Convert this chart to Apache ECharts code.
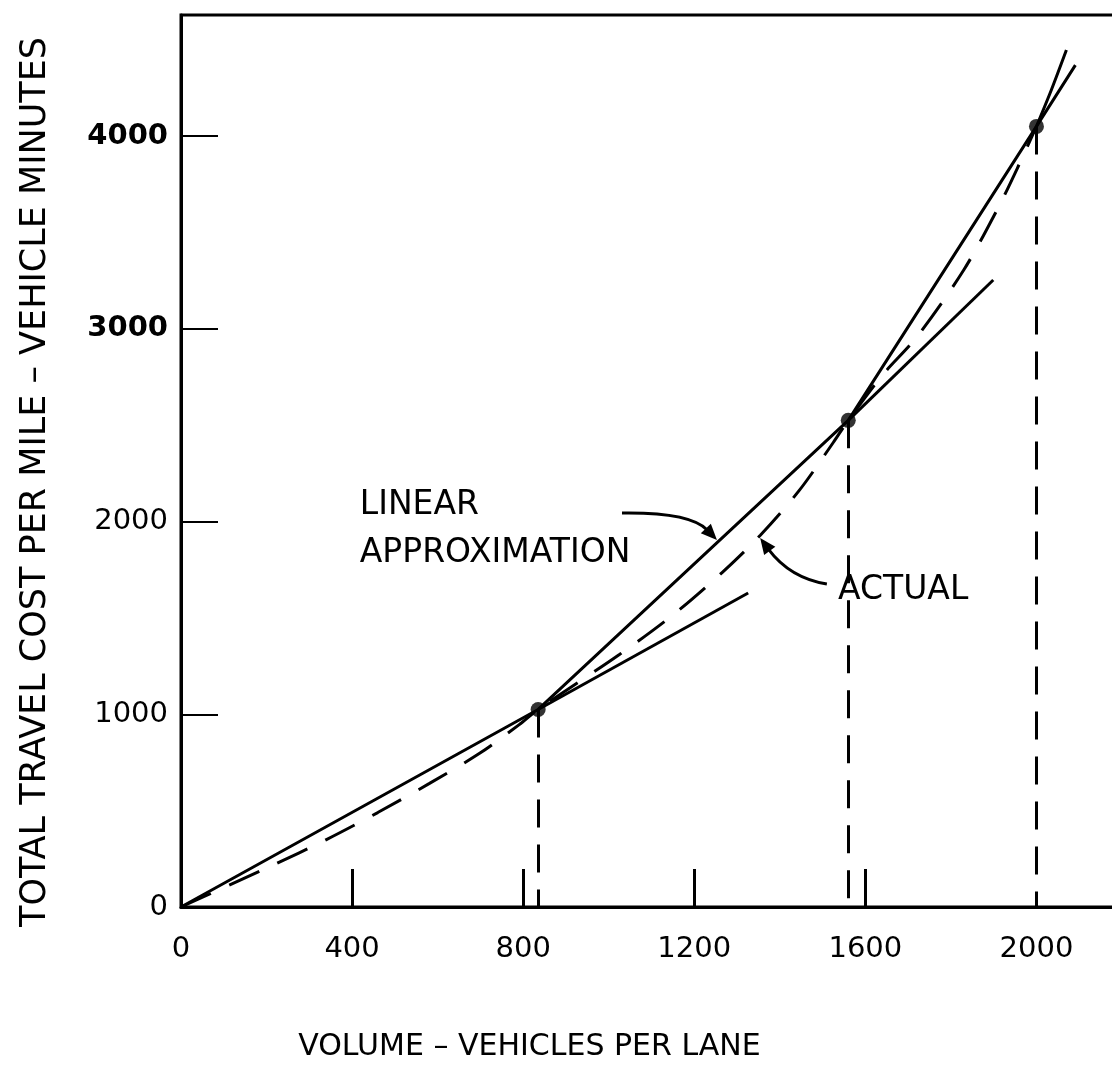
<!DOCTYPE html>
<html>
<head>
<meta charset="utf-8">
<title>Total travel cost vs volume</title>
<script src="https://cdn.jsdelivr.net/npm/echarts@6.0.0/dist/echarts.min.js"></script>
<style>
  html, body { margin: 0; padding: 0; background: #fff; }
  #main { width: 1112px; height: 1078px; }
</style>
</head>
<body>
<div id="main"></div>
<script>
var FONT = 'DejaVu Sans';

// axis ticks and labels
var xTickValues = [400, 800, 1200, 1600];
var xLabelValues = [0, 400, 800, 1200, 1600, 2000];
var yTickValues = [1000, 2000, 3000, 4000];
var yLabelValues = [0, 1000, 2000, 3000, 4000];

// actual cost curve (dashed)
var actualX = [0, 210, 340, 460, 580, 700, 790, 835, 1025, 1150, 1265, 1355, 1445, 1525, 1560, 1640, 1720, 1830, 1910, 1960, 2000];
var actualY = [0, 212, 350, 490, 640, 800, 945, 1025, 1310, 1515, 1735, 1930, 2160, 2410, 2525, 2760, 2957, 3305, 3626, 3855, 4050];
// top end of the actual curve, drawn solid
var actualTailX = [2000, 2035, 2070];
var actualTailY = [4050, 4240, 4446];

// linear approximation: chords through the break points
var linearX = [0, 835, 1560, 2000, 2091];
var linearY = [0, 1025, 2525, 4050, 4368];
// chords carried on past their end points
var ext1X = [835, 1326];
var ext1Y = [1025, 1629];
var ext2X = [1560, 1899];
var ext2Y = [2525, 3253];

// break points
var pointX = [835, 1560, 2000];
var pointY = [1025, 2525, 4050];

// annotations, in data units
var linearText = 'LINEAR\nAPPROXIMATION';
var linearTextAt = [418, 1961];
var actualText = 'ACTUAL';
var actualTextAt = [1536, 1645];
var linearArrow = [[1031, 2044], [1190, 2049], [1253, 1904]];
var actualArrow = [[1510, 1676], [1424, 1707], [1354, 1914]];

function zip(xs, ys) {
  return xs.map(function (x, i) { return [x, ys[i]]; });
}

var solid = { color: '#000', width: 3, type: 'solid' };

var option = {
  backgroundColor: '#fff',
  animation: false,
  grid: {
    left: 181, top: 15, width: 941, height: 892,
    outerBoundsMode: 'none', containLabel: false,
    show: true, borderColor: '#000', borderWidth: 3, backgroundColor: 'transparent'
  },
  xAxis: {
    type: 'value', min: 0, max: 2200,
    name: 'VOLUME \u2013 VEHICLES PER LANE',
    nameLocation: 'middle', nameGap: 125,
    nameTextStyle: { fontFamily: FONT, fontSize: 30, color: '#000', padding: [0, 244, 0, 0] },
    axisLine: { lineStyle: { color: '#000', width: 3 } },
    axisTick: { inside: true, length: 38, lineStyle: { color: '#000', width: 3 }, customValues: xTickValues },
    axisLabel: {
      customValues: xLabelValues, margin: 28, fontFamily: FONT, fontSize: 29, color: '#000',
      formatter: function (v) { return String(v); }
    },
    splitLine: { show: false }
  },
  yAxis: {
    type: 'value', min: 0, max: 4628,
    name: 'TOTAL TRAVEL COST PER MILE \u2013 VEHICLE MINUTES',
    nameLocation: 'middle', nameGap: 128,
    nameTextStyle: { fontFamily: FONT, fontSize: 35, color: '#000', padding: [0, 42, 0, 0] },
    axisLine: { lineStyle: { color: '#000', width: 3 } },
    axisTick: { inside: true, length: 37, lineStyle: { color: '#000', width: 2 }, customValues: yTickValues },
    axisLabel: {
      customValues: yLabelValues, margin: 13, color: '#000',
      formatter: function (v) { return v >= 3000 ? '{b|' + v + '}' : '{n|' + v + '}'; },
      rich: {
        b: { fontFamily: FONT, fontSize: 29, fontWeight: 'bold', color: '#000' },
        n: { fontFamily: FONT, fontSize: 29, color: '#000' }
      }
    },
    splitLine: { show: false }
  },
  series: [
    {
      name: 'actual', type: 'line', data: zip(actualX, actualY),
      smooth: 0.3, symbol: 'none',
      lineStyle: { color: '#000', width: 3, type: [33, 20] }
    },
    {
      name: 'actual-top', type: 'line', data: zip(actualTailX, actualTailY),
      smooth: 0.3, symbol: 'none', lineStyle: solid
    },
    { name: 'linear', type: 'line', data: zip(linearX, linearY), symbol: 'none', lineStyle: solid },
    { name: 'ext1', type: 'line', data: zip(ext1X, ext1Y), symbol: 'none', lineStyle: solid },
    { name: 'ext2', type: 'line', data: zip(ext2X, ext2Y), symbol: 'none', lineStyle: solid },
    {
      name: 'points', type: 'scatter', data: zip(pointX, pointY),
      symbolSize: 15, itemStyle: { color: '#000' }, z: 5,
      markLine: {
        silent: true, symbol: ['none', 'none'], label: { show: false },
        lineStyle: { color: '#000', width: 3, type: [28, 17] },
        data: pointX.map(function (x, i) { return [{ coord: [x, pointY[i]] }, { coord: [x, 0] }]; })
      }
    }
  ]
};

var chart = echarts.init(document.getElementById('main'));
chart.setOption(option);

function px(p) { return chart.convertToPixel({ gridIndex: 0 }, p); }

function arrow(a) {
  var s = px(a[0]), c = px(a[1]), t = px(a[2]);
  var dx = t[0] - c[0], dy = t[1] - c[1];
  var len = Math.sqrt(dx * dx + dy * dy);
  var ux = dx / len, uy = dy / len;
  var hl = 16, hw = 7;
  var bx = t[0] - ux * hl, by = t[1] - uy * hl;
  return [
    {
      type: 'bezierCurve',
      shape: { x1: s[0], y1: s[1], cpx1: c[0], cpy1: c[1], x2: bx + ux * 2, y2: by + uy * 2 },
      style: { stroke: '#000', lineWidth: 3, fill: null }
    },
    {
      type: 'polygon',
      shape: { points: [[t[0], t[1]], [bx - uy * hw, by + ux * hw], [bx + uy * hw, by - ux * hw]] },
      style: { fill: '#000' }
    }
  ];
}

var lt = px(linearTextAt), at = px(actualTextAt);
var graphics = [
  {
    type: 'text', x: lt[0], y: lt[1],
    style: { text: linearText, fontFamily: FONT, fontSize: 33, lineHeight: 48, fill: '#000', align: 'left', verticalAlign: 'middle' }
  },
  {
    type: 'text', x: at[0], y: at[1],
    style: { text: actualText, fontFamily: FONT, fontSize: 33, fill: '#000', align: 'left', verticalAlign: 'middle' }
  }
].concat(arrow(linearArrow), arrow(actualArrow));

chart.setOption({ graphic: graphics });
</script>
</body>
</html>
